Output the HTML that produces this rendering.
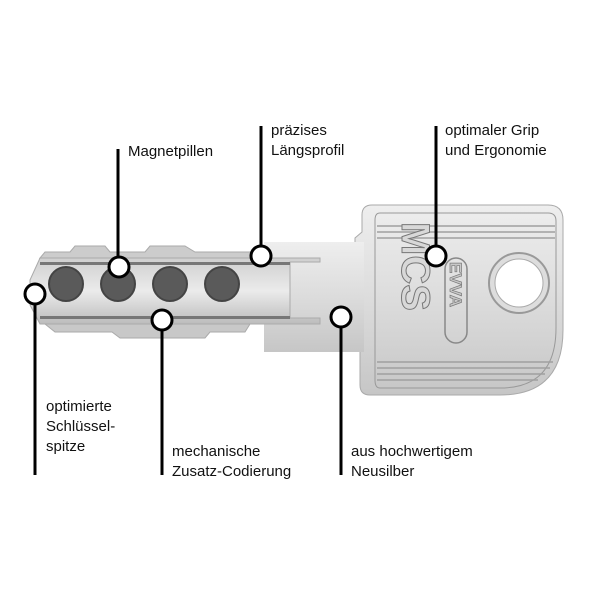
<!DOCTYPE html>
<html><head><meta charset="utf-8"><style>
body{margin:0;background:#fff}
svg{display:block}
text{font-family:"Liberation Sans",sans-serif;font-size:15px;fill:#111}
</style></head><body>
<svg width="600" height="600" viewBox="0 0 600 600">
<defs>
<linearGradient id="m" x1="0" y1="0" x2="0" y2="1">
<stop offset="0" stop-color="#eeeeee"/><stop offset="0.5" stop-color="#dcdcdc"/><stop offset="1" stop-color="#c6c6c6"/>
</linearGradient>
<linearGradient id="b" x1="0" y1="0" x2="0" y2="1">
<stop offset="0" stop-color="#cfcfcf"/><stop offset="0.5" stop-color="#ebebeb"/><stop offset="1" stop-color="#bcbcbc"/>
</linearGradient>
</defs>
<!-- head -->
<path d="M372 205 H548 Q563 205 563 220 V330 Q563 395 500 395 H370 Q360 395 360 385 V345 H355 V238 L362 232 V215 Q362 205 372 205Z" fill="url(#m)" stroke="#aaa"/>
<path d="M380 213 H548 Q556 213 556 221 V328 Q556 388 500 388 H380 Q375 388 375 380 V220 Q375 213 380 213Z" fill="none" stroke="#999"/>
<g stroke="#a0a0a0" stroke-width="1.5">
<line x1="377" y1="226" x2="555" y2="226"/><line x1="377" y1="232" x2="555" y2="232"/><line x1="377" y1="238" x2="555" y2="238"/>
<line x1="377" y1="362" x2="553" y2="362"/><line x1="377" y1="368" x2="550" y2="368"/><line x1="377" y1="374" x2="545" y2="374"/><line x1="377" y1="380" x2="538" y2="380"/>
</g>
<circle cx="519" cy="283" r="30" fill="#ddd" stroke="#999" stroke-width="2"/>
<circle cx="519" cy="283" r="24" fill="#fff" stroke="#aaa"/>
<rect x="445" y="258" width="22" height="85" rx="11" fill="none" stroke="#888" stroke-width="1.5"/>
<text x="0" y="0" transform="translate(450 262) rotate(90)" style="font-size:17px;font-weight:bold;fill:#c8c8c8;stroke:#777;stroke-width:.7">EVVA</text>
<text x="0" y="0" transform="translate(402 222) rotate(90)" style="font-size:40px;font-weight:bold;fill:#d8d8d8;stroke:#777;stroke-width:1">MCS</text>
<!-- shank -->
<rect x="264" y="242" width="100" height="110" fill="url(#m)"/>
<!-- blade -->
<path d="M40 258 H320 V262 H290 V318 H320 V324 H40 L30 305 V280Z" fill="url(#b)" stroke="#aaa"/>
<path d="M45 252 L70 252 L75 246 L105 246 L110 252 H145 L150 246 L185 246 L195 252 H264 V258 H40Z" fill="#ccc" stroke="#aaa"/>
<path d="M45 324 H250 L245 332 H210 L205 338 H120 L112 332 H55Z" fill="#c8c8c8" stroke="#aaa"/>
<rect x="40" y="262" width="250" height="3" fill="#777"/>
<rect x="40" y="316" width="250" height="3" fill="#777"/>
<g fill="#5a5a5a" stroke="#444" stroke-width="2">
<circle cx="66" cy="284" r="17"/><circle cx="118" cy="284" r="17"/><circle cx="170" cy="284" r="17"/><circle cx="222" cy="284" r="17"/>
</g>
<!-- leader lines -->
<g stroke="#000" stroke-width="3">
<line x1="118" y1="149" x2="118" y2="258"/>
<line x1="261" y1="126" x2="261" y2="248"/>
<line x1="436" y1="126" x2="436" y2="248"/>
<line x1="35" y1="302" x2="35" y2="475"/>
<line x1="162" y1="328" x2="162" y2="475"/>
<line x1="341" y1="325" x2="341" y2="475"/>
</g>
<g fill="#fff" stroke="#000" stroke-width="3">
<circle cx="119" cy="267" r="10"/><circle cx="261" cy="256" r="10"/><circle cx="436" cy="256" r="10"/>
<circle cx="35" cy="294" r="10"/><circle cx="162" cy="320" r="10"/><circle cx="341" cy="317" r="10"/>
</g>
<text x="128" y="156">Magnetpillen</text>
<text x="271" y="135">präzises</text><text x="271" y="155">Längsprofil</text>
<text x="445" y="135">optimaler Grip</text><text x="445" y="155">und Ergonomie</text>
<text x="46" y="411">optimierte</text><text x="46" y="431">Schlüssel-</text><text x="46" y="451">spitze</text>
<text x="172" y="456">mechanische</text><text x="172" y="476">Zusatz-Codierung</text>
<text x="351" y="456">aus hochwertigem</text><text x="351" y="476">Neusilber</text>
</svg>
</body></html>
